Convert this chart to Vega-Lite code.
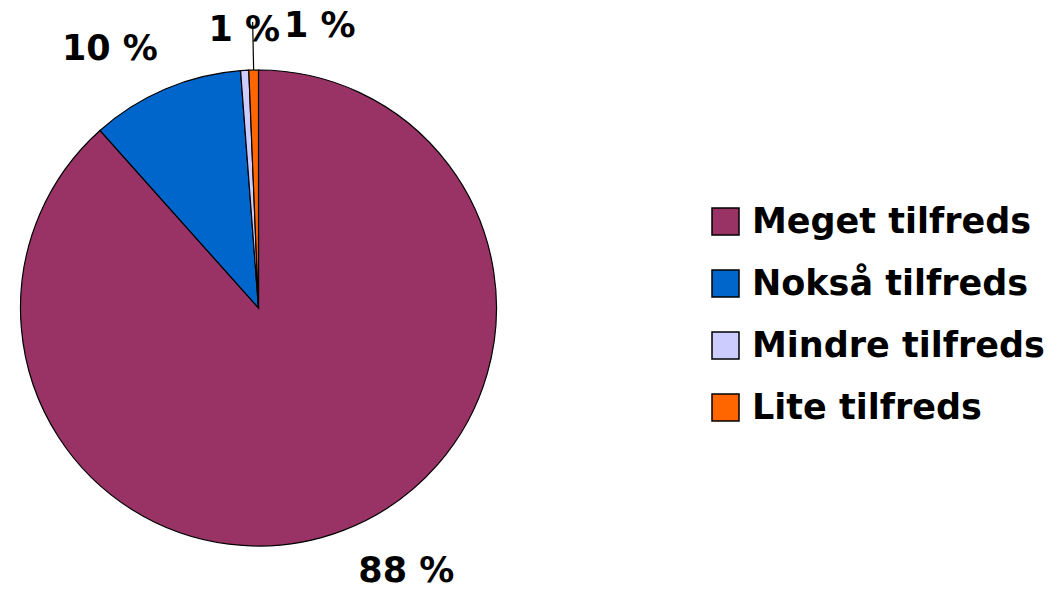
{
  "$schema": "https://vega.github.io/schema/vega-lite/v6.json",
  "width": 517,
  "height": 562,
  "autosize": "none",
  "padding": {"left": 0, "top": 27, "right": 544, "bottom": 0},
  "background": "white",
  "view": {"stroke": null},
  "data": {
    "values": [
      {"kategori": "Meget tilfreds", "andel": 88.4, "label": "88 %", "i": 1},
      {"kategori": "Nokså tilfreds", "andel": 10.4, "label": "10 %", "i": 2},
      {"kategori": "Mindre tilfreds", "andel": 0.55, "label": "1 %", "i": 3},
      {"kategori": "Lite tilfreds", "andel": 0.65, "label": "1 %", "i": 4}
    ]
  },
  "encoding": {
    "theta": {"field": "andel", "type": "quantitative", "stack": true},
    "order": {"field": "i", "type": "quantitative"}
  },
  "layer": [
    {
      "mark": {"type": "arc", "radius": 238, "stroke": "black", "strokeWidth": 1.2},
      "encoding": {
        "color": {
          "field": "kategori",
          "type": "nominal",
          "scale": {
            "domain": ["Meget tilfreds", "Nokså tilfreds", "Mindre tilfreds", "Lite tilfreds"],
            "range": ["#993366", "#0066CC", "#CCCCFF", "#FF6600"]
          },
          "legend": {
            "orient": "none",
            "legendX": 708,
            "legendY": 177,
            "title": null,
            "symbolType": "square",
            "symbolSize": 729,
            "symbolStrokeColor": "black",
            "symbolStrokeWidth": 1.5,
            "labelFont": "DejaVu Sans",
            "labelFontSize": 35,
            "labelFontWeight": "bold",
            "labelColor": "black",
            "labelOffset": 9,
            "rowPadding": 26,
            "padding": 0,
            "labelLimit": 0
          }
        }
      }
    },
    {
      "mark": {"type": "arc", "radius": 286, "radius2": 238, "padAngle": 0.2, "fillOpacity": 0, "strokeWidth": 1.2},
      "encoding": {
        "detail": {"field": "kategori", "type": "nominal"},
        "stroke": {"condition": {"test": "datum.kategori === 'Lite tilfreds'", "value": "black"}, "value": "transparent"}
      }
    },
    {
      "mark": {"type": "text", "radius": 280, "font": "DejaVu Sans", "fontSize": 35, "fontWeight": "bold", "fill": "black", "dx": 48, "dy": 1},
      "encoding": {
        "detail": {"field": "kategori", "type": "nominal"},
        "text": {"condition": {"test": "datum.kategori === 'Meget tilfreds'", "field": "label", "type": "nominal"}, "value": ""}
      }
    },
    {
      "mark": {"type": "text", "radius": 280, "font": "DejaVu Sans", "fontSize": 35, "fontWeight": "bold", "fill": "black", "dx": -39, "dy": -1},
      "encoding": {
        "detail": {"field": "kategori", "type": "nominal"},
        "text": {"condition": {"test": "datum.kategori === 'Nokså tilfreds'", "field": "label", "type": "nominal"}, "value": ""}
      }
    },
    {
      "mark": {"type": "text", "radius": 280, "font": "DejaVu Sans", "fontSize": 35, "fontWeight": "bold", "fill": "black", "dx": 2, "dy": 2},
      "encoding": {
        "detail": {"field": "kategori", "type": "nominal"},
        "text": {"condition": {"test": "datum.kategori === 'Mindre tilfreds'", "field": "label", "type": "nominal"}, "value": ""}
      }
    },
    {
      "mark": {"type": "text", "radius": 280, "font": "DejaVu Sans", "fontSize": 35, "fontWeight": "bold", "fill": "black", "dx": 67, "dy": -2},
      "encoding": {
        "detail": {"field": "kategori", "type": "nominal"},
        "text": {"condition": {"test": "datum.kategori === 'Lite tilfreds'", "field": "label", "type": "nominal"}, "value": ""}
      }
    }
  ]
}
